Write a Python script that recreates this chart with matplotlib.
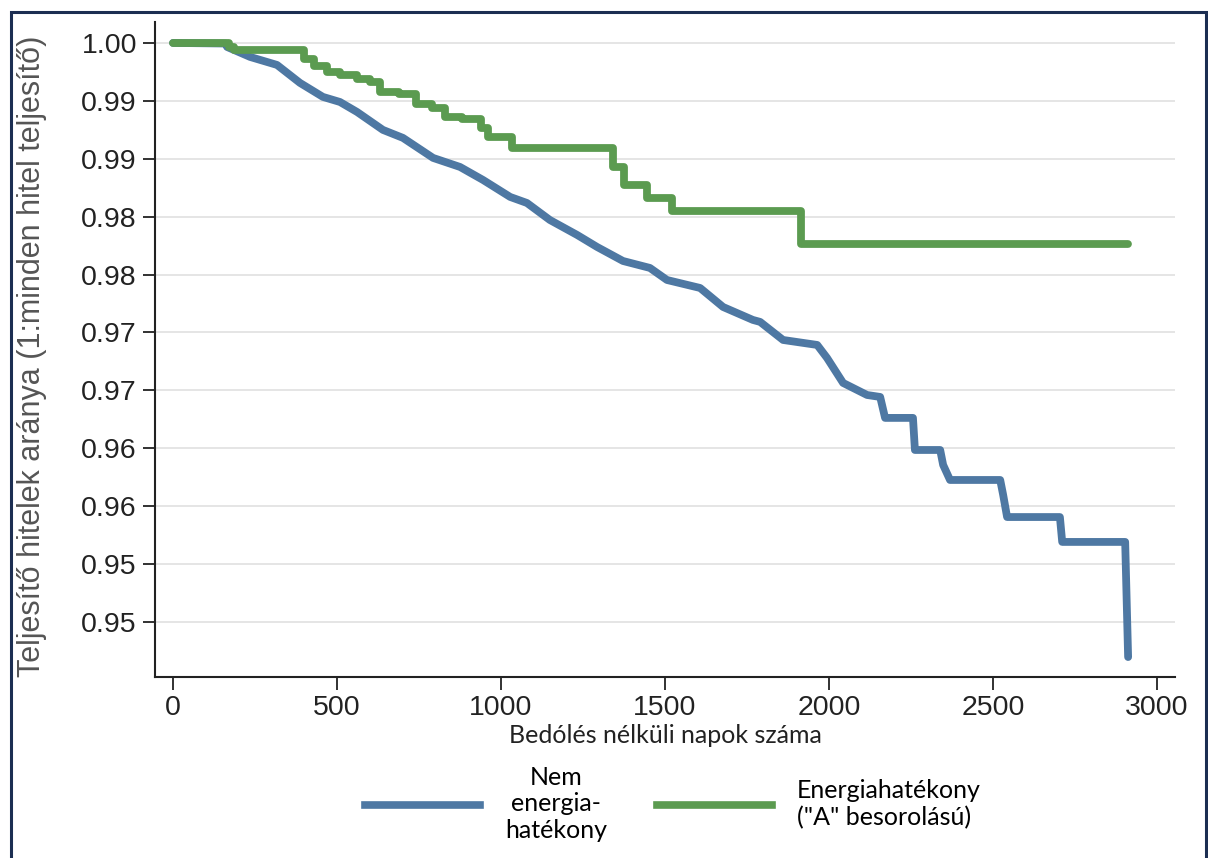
import matplotlib
matplotlib.use("Agg")
import matplotlib.pyplot as plt
from matplotlib.patches import Rectangle
from matplotlib.lines import Line2D

# ── Data ──────────────────────────────────────────────────────
# Kaplan-Meier style survival: share of performing loans vs days without default
nem_days = [0, 160, 165, 235, 317, 387, 457, 509, 561, 640, 701, 793, 875,
            945, 1028, 1079, 1149, 1232, 1293, 1372, 1454, 1506, 1607, 1677,
            1768, 1790, 1860, 1964, 1994, 2043, 2116, 2156, 2171, 2256, 2262,
            2339, 2348, 2369, 2522, 2531, 2543, 2704, 2711, 2903, 2912]
nem_surv = [1.0000, 0.99995, 0.99965, 0.99879, 0.99810, 0.99655, 0.99534,
            0.99490, 0.99404, 0.99249, 0.99180, 0.99007, 0.98929, 0.98817,
            0.98670, 0.98618, 0.98471, 0.98342, 0.98238, 0.98117, 0.98057,
            0.97953, 0.97884, 0.97720, 0.97608, 0.97591, 0.97435, 0.97392,
            0.97280, 0.97064, 0.96960, 0.96943, 0.96762, 0.96762, 0.96485,
            0.96485, 0.96356, 0.96226, 0.96226, 0.96097, 0.95906, 0.95906,
            0.95691, 0.95691, 0.94697]

ee_days = [0, 170, 185, 400, 430, 470, 510, 560, 600, 630, 690, 740, 790,
           830, 880, 940, 960, 1035, 1340, 1375, 1445, 1520, 1915, 2912]
ee_surv = [1.0000, 0.99965, 0.99940, 0.99860, 0.99800, 0.99750, 0.99720,
           0.99690, 0.99660, 0.99577, 0.99560, 0.99470, 0.99439, 0.99360,
           0.99340, 0.99266, 0.99188, 0.99093, 0.98932, 0.98774, 0.98664,
           0.98552, 0.98264, 0.98264]

y_ticks = [1.000, 0.995, 0.990, 0.985, 0.980, 0.975, 0.970, 0.965, 0.960,
           0.955, 0.950]
y_ticklabels = ["1.00", "0.99", "0.99", "0.98", "0.98", "0.97", "0.97",
                "0.96", "0.96", "0.95", "0.95"]
x_ticks = [0, 500, 1000, 1500, 2000, 2500, 3000]

labels = ["Nem\nenergia-\nhatékony", "Energiahatékony\n(\"A\" besorolású)"]
x_label = "Bedólés nélküli napok száma"
y_label = "Teljesítő hitelek aránya (1:minden hitel teljesítő)"

# ── Style ─────────────────────────────────────────────────────
BLUE = "#4e78a3"
GREEN = "#5b9b50"
GRID = "#e3e3e3"
NARROW = ["Lato", "DejaVu Sans"]
ARIAL = ["Liberation Sans", "DejaVu Sans"]

fig = plt.figure(figsize=(12.08, 8.58), dpi=100)
fig.patch.set_facecolor("white")
ax = fig.add_axes([0.1283, 0.2110, 0.8444, 0.7634])

ax.plot(nem_days, nem_surv, color=BLUE, linewidth=5.6,
        solid_capstyle="round", solid_joinstyle="round", zorder=3)
ax.plot(ee_days, ee_surv, color=GREEN, linewidth=5.6, drawstyle="steps-post",
        solid_capstyle="round", solid_joinstyle="round", zorder=4)

ax.set_xlim(-55, 3055)
ax.set_ylim(0.94525, 1.00181)
ax.set_yticks(y_ticks)
ax.set_yticklabels(y_ticklabels, family=ARIAL, fontsize=20.5, color="#222222")
ax.set_xticks(x_ticks)
ax.set_xticklabels([str(t) for t in x_ticks], family=ARIAL, fontsize=20.5,
                   color="#222222")
ax.tick_params(axis="both", direction="out", length=9, width=1.3,
               color="#222222", pad=4)

ax.grid(axis="y", color=GRID, linewidth=1.3, zorder=0)
ax.set_axisbelow(True)
for side in ("top", "right"):
    ax.spines[side].set_visible(False)
for side in ("left", "bottom"):
    ax.spines[side].set_linewidth(1.5)
    ax.spines[side].set_color("#222222")

ax.set_ylabel(y_label, family=ARIAL, fontsize=22, color="#555555")
ax.yaxis.set_label_coords(-0.106, 0.49)
ax.set_xlabel(x_label, family=NARROW, fontsize=18, color="#222222",
              labelpad=2)

# ── Legend ────────────────────────────────────────────────────
handles = [Line2D([], [], color=BLUE, linewidth=5.5),
           Line2D([], [], color=GREEN, linewidth=5.5)]
leg = fig.legend(handles, labels, loc="center", ncol=2,
                 bbox_to_anchor=(0.557, 0.063), frameon=False,
                 prop={"family": NARROW, "size": 18},
                 handlelength=4.6, handletextpad=1.0, columnspacing=2.0)
texts = leg.get_texts()
texts[0].set_multialignment("center")
texts[1].set_multialignment("left")

# ── Navy frame around the figure ─────────────────────────────
fig.add_artist(Rectangle((11 / 1208, -0.01), 1195 / 1208, 0.996,
                         transform=fig.transFigure, fill=False,
                         edgecolor="#1c2e52", linewidth=2.2))

fig.savefig("out.png", dpi=100, facecolor=fig.get_facecolor())
